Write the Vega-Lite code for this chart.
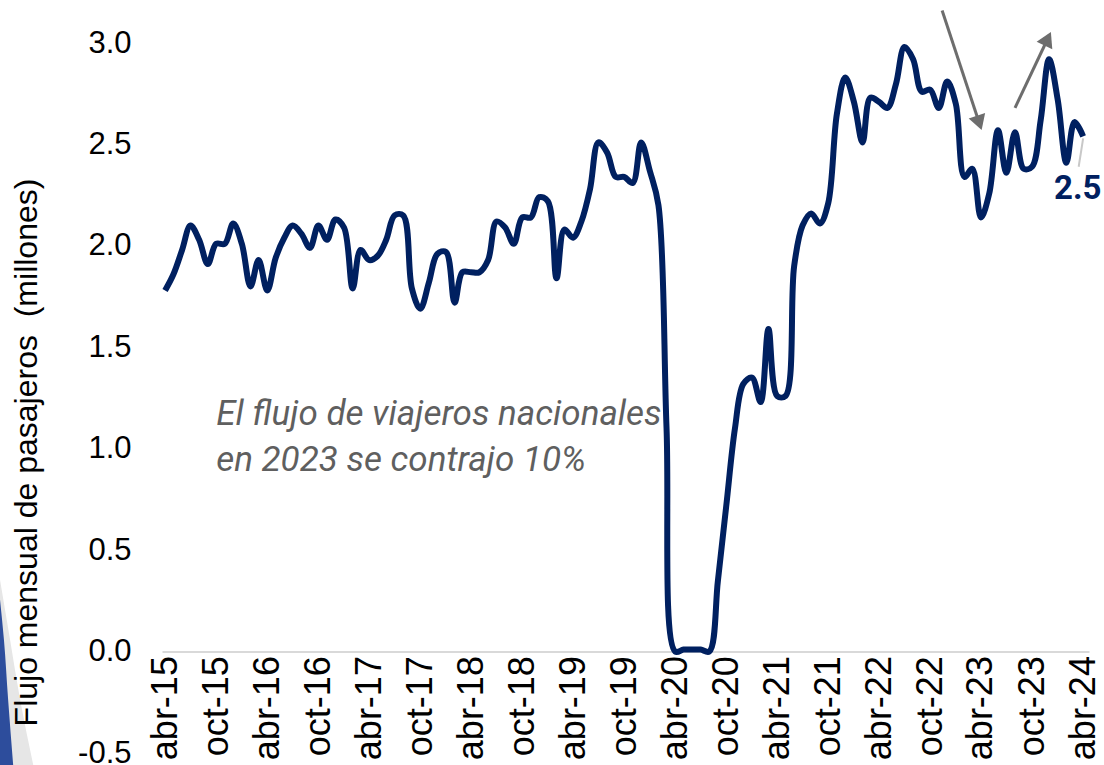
{
  "$schema": "https://vega.github.io/schema/vega-lite/v6.json",
  "width": 927,
  "height": 710,
  "autosize": "none",
  "padding": {"left": 162, "top": 43, "right": 15, "bottom": 12},
  "background": "white",
  "config": {"view": {"stroke": null}, "font": "Liberation Sans"},
  "datasets": {
    "serie": [
      {"fecha":"2015-04-01","valor":1.78},{"fecha":"2015-05-01","valor":1.86},{"fecha":"2015-06-01","valor":1.98},
      {"fecha":"2015-07-01","valor":2.10},{"fecha":"2015-08-01","valor":2.03},{"fecha":"2015-09-01","valor":1.91},
      {"fecha":"2015-10-01","valor":2.01},{"fecha":"2015-11-01","valor":2.01},{"fecha":"2015-12-01","valor":2.11},
      {"fecha":"2016-01-01","valor":2.01},{"fecha":"2016-02-01","valor":1.80},{"fecha":"2016-03-01","valor":1.93},
      {"fecha":"2016-04-01","valor":1.78},{"fecha":"2016-05-01","valor":1.94},{"fecha":"2016-06-01","valor":2.04},
      {"fecha":"2016-07-01","valor":2.10},{"fecha":"2016-08-01","valor":2.06},{"fecha":"2016-09-01","valor":1.99},
      {"fecha":"2016-10-01","valor":2.10},{"fecha":"2016-11-01","valor":2.03},{"fecha":"2016-12-01","valor":2.13},
      {"fecha":"2017-01-01","valor":2.09},{"fecha":"2017-02-01","valor":1.79},{"fecha":"2017-03-01","valor":1.98},
      {"fecha":"2017-04-01","valor":1.93},{"fecha":"2017-05-01","valor":1.95},{"fecha":"2017-06-01","valor":2.03},
      {"fecha":"2017-07-01","valor":2.15},{"fecha":"2017-08-01","valor":2.15},{"fecha":"2017-09-01","valor":1.79},
      {"fecha":"2017-10-01","valor":1.69},{"fecha":"2017-11-01","valor":1.82},{"fecha":"2017-12-01","valor":1.96},
      {"fecha":"2018-01-01","valor":1.97},{"fecha":"2018-02-01","valor":1.72},{"fecha":"2018-03-01","valor":1.87},
      {"fecha":"2018-04-01","valor":1.87},{"fecha":"2018-05-01","valor":1.87},{"fecha":"2018-06-01","valor":1.93},
      {"fecha":"2018-07-01","valor":2.12},{"fecha":"2018-08-01","valor":2.09},{"fecha":"2018-09-01","valor":2.01},
      {"fecha":"2018-10-01","valor":2.14},{"fecha":"2018-11-01","valor":2.14},{"fecha":"2018-12-01","valor":2.24},
      {"fecha":"2019-01-01","valor":2.22},{"fecha":"2019-02-01","valor":1.84},{"fecha":"2019-03-01","valor":2.08},
      {"fecha":"2019-04-01","valor":2.04},{"fecha":"2019-05-01","valor":2.12},{"fecha":"2019-06-01","valor":2.28},
      {"fecha":"2019-07-01","valor":2.51},{"fecha":"2019-08-01","valor":2.46},{"fecha":"2019-09-01","valor":2.34},
      {"fecha":"2019-10-01","valor":2.34},{"fecha":"2019-11-01","valor":2.31},{"fecha":"2019-12-01","valor":2.51},
      {"fecha":"2020-01-01","valor":2.37},{"fecha":"2020-02-01","valor":2.20},{"fecha":"2020-03-01","valor":1.10},
      {"fecha":"2020-04-01","valor":0.00},{"fecha":"2020-05-01","valor":0.01},{"fecha":"2020-06-01","valor":0.01},
      {"fecha":"2020-07-01","valor":0.01},{"fecha":"2020-08-01","valor":0.00},{"fecha":"2020-09-01","valor":0.35},
      {"fecha":"2020-10-01","valor":0.72},{"fecha":"2020-11-01","valor":1.10},{"fecha":"2020-12-01","valor":1.32},
      {"fecha":"2021-01-01","valor":1.35},{"fecha":"2021-02-01","valor":1.23},{"fecha":"2021-03-01","valor":1.59},
      {"fecha":"2021-04-01","valor":1.26},{"fecha":"2021-05-01","valor":1.26},{"fecha":"2021-06-01","valor":1.90},
      {"fecha":"2021-07-01","valor":2.10},{"fecha":"2021-08-01","valor":2.16},{"fecha":"2021-09-01","valor":2.11},
      {"fecha":"2021-10-01","valor":2.21},{"fecha":"2021-11-01","valor":2.65},{"fecha":"2021-12-01","valor":2.83},
      {"fecha":"2022-01-01","valor":2.71},{"fecha":"2022-02-01","valor":2.51},{"fecha":"2022-03-01","valor":2.73},
      {"fecha":"2022-04-01","valor":2.71},{"fecha":"2022-05-01","valor":2.68},{"fecha":"2022-06-01","valor":2.80},
      {"fecha":"2022-07-01","valor":2.98},{"fecha":"2022-08-01","valor":2.92},{"fecha":"2022-09-01","valor":2.76},
      {"fecha":"2022-10-01","valor":2.77},{"fecha":"2022-11-01","valor":2.68},{"fecha":"2022-12-01","valor":2.81},
      {"fecha":"2023-01-01","valor":2.70},{"fecha":"2023-02-01","valor":2.34},{"fecha":"2023-03-01","valor":2.38},
      {"fecha":"2023-04-01","valor":2.14},{"fecha":"2023-05-01","valor":2.26},{"fecha":"2023-06-01","valor":2.57},
      {"fecha":"2023-07-01","valor":2.36},{"fecha":"2023-08-01","valor":2.56},{"fecha":"2023-09-01","valor":2.38},
      {"fecha":"2023-10-01","valor":2.39},{"fecha":"2023-11-01","valor":2.62},{"fecha":"2023-12-01","valor":2.92},
      {"fecha":"2024-01-01","valor":2.72},{"fecha":"2024-02-01","valor":2.41},{"fecha":"2024-03-01","valor":2.61},
      {"fecha":"2024-04-01","valor":2.54}
    ],
    "nota": [
      {"fecha":"2015-10-01","valor":1.118,"texto":["El flujo de viajeros nacionales","en 2023 se contrajo 10%"]}
    ],
    "flechas": [
      {"id":"baja","fecha":"2022-11-13","valor":3.16,"fecha2":"2023-03-26","valor2":2.606},
      {"id":"sube","fecha":"2023-08-01","valor":2.68,"fecha2":"2023-11-26","valor2":3.021}
    ],
    "guia": [
      {"fecha":"2024-04-01","valor":2.53,"fecha2":"2024-03-16","valor2":2.39}
    ],
    "etiqueta": [
      {"fecha":"2024-03-13","valor":2.28,"texto":"2.5"}
    ],
    "franja_gris": [
      {"borde":"2013-08-18","valor":0.353,"inicio":"2013-08-01"},
      {"borde":"2013-09-23","valor":0.057,"inicio":"2013-08-01"},
      {"borde":"2013-10-29","valor":-0.239,"inicio":"2013-08-01"},
      {"borde":"2013-12-15","valor":-0.56,"inicio":"2013-08-01"}
    ],
    "franja_azul": [
      {"borde":"2013-08-18","valor":0.254,"inicio":"2013-08-01"},
      {"borde":"2013-09-01","valor":0.057,"inicio":"2013-08-01"},
      {"borde":"2013-09-16","valor":-0.239,"inicio":"2013-08-01"},
      {"borde":"2013-10-04","valor":-0.56,"inicio":"2013-08-01"}
    ]
  },
  "layer": [
    {
      "data": {"name": "franja_gris"},
      "mark": {"type": "area", "orient": "horizontal", "color": "#e6e6e6", "interpolate": "monotone"},
      "encoding": {
        "y": {"field": "valor", "type": "quantitative"},
        "x": {"field": "borde", "type": "temporal"},
        "x2": {"field": "inicio"}
      }
    },
    {
      "data": {"name": "franja_azul"},
      "mark": {"type": "area", "orient": "horizontal", "color": "#2d4d9c", "interpolate": "monotone"},
      "encoding": {
        "y": {"field": "valor", "type": "quantitative"},
        "x": {"field": "borde", "type": "temporal"},
        "x2": {"field": "inicio"}
      }
    },
    {
      "data": {"name": "serie"},
      "mark": {"type": "line", "interpolate": "catmull-rom", "color": "#002060", "strokeWidth": 6},
      "encoding": {
        "x": {
          "field": "fecha", "type": "temporal",
          "scale": {"type": "utc", "domain": [{"year":2015,"month":3,"date":21,"utc":true},{"year":2024,"month":4,"date":22,"utc":true}]},
          "axis": {
            "title": null,
            "values": [
              {"year":2015,"month":4,"date":1,"utc":true},{"year":2015,"month":10,"date":1,"utc":true},
              {"year":2016,"month":4,"date":1,"utc":true},{"year":2016,"month":10,"date":1,"utc":true},
              {"year":2017,"month":4,"date":1,"utc":true},{"year":2017,"month":10,"date":1,"utc":true},
              {"year":2018,"month":4,"date":1,"utc":true},{"year":2018,"month":10,"date":1,"utc":true},
              {"year":2019,"month":4,"date":1,"utc":true},{"year":2019,"month":10,"date":1,"utc":true},
              {"year":2020,"month":4,"date":1,"utc":true},{"year":2020,"month":10,"date":1,"utc":true},
              {"year":2021,"month":4,"date":1,"utc":true},{"year":2021,"month":10,"date":1,"utc":true},
              {"year":2022,"month":4,"date":1,"utc":true},{"year":2022,"month":10,"date":1,"utc":true},
              {"year":2023,"month":4,"date":1,"utc":true},{"year":2023,"month":10,"date":1,"utc":true},
              {"year":2024,"month":4,"date":1,"utc":true}
            ],
            "labelExpr": "(utcmonth(datum.value) == 3 ? 'abr' : 'oct') + '-' + utcFormat(datum.value, '%y')",
            "labelAngle": 270,
            "labelFont": "Liberation Sans",
            "labelFontSize": 36,
            "labelColor": "#000000",
            "ticks": false,
            "tickSize": 0,
            "labelPadding": 4,
            "domainColor": "#d9d9d9",
            "domainWidth": 2,
            "offset": -101.4,
            "grid": false,
            "labelFlush": false,
            "labelOverlap": false,
            "labelBound": false
          }
        },
        "y": {
          "field": "valor", "type": "quantitative",
          "scale": {"domain": [-0.5, 3.0], "nice": false, "zero": false},
          "axis": {
            "zindex": 1,
            "values": [-0.5, 0, 0.5, 1.0, 1.5, 2.0, 2.5, 3.0],
            "labelExpr": "replace(format(datum.value, '.1f'), '\u2212', '-')",
            "labelFont": "Liberation Sans",
            "labelFontSize": 31,
            "labelColor": "#000000",
            "ticks": false,
            "tickSize": 0,
            "domain": false,
            "grid": false,
            "labelPadding": 31,
            "labelFlush": false,
            "labelOverlap": false,
            "title": "Flujo mensual de pasajeros \u00a0(millones)",
            "titleFont": "Liberation Sans",
            "titleFontSize": 32,
            "titleFontWeight": "normal",
            "titleColor": "#000000",
            "titleAngle": 270,
            "titleX": -126,
            "titleY": 409,
            "titleAlign": "center",
            "titleBaseline": "alphabetic"
          }
        }
      }
    },
    {
      "data": {"name": "nota"},
      "mark": {"type": "text", "align": "left", "baseline": "alphabetic", "font": "Roboto", "fontStyle": "italic", "fontSize": 35, "color": "#5f5f5f", "lineHeight": 46},
      "encoding": {
        "x": {"field": "fecha", "type": "temporal"},
        "y": {"field": "valor", "type": "quantitative"},
        "text": {"field": "texto"}
      }
    },
    {
      "data": {"name": "flechas"},
      "mark": {"type": "rule", "color": "#6d6d6d", "strokeWidth": 3},
      "encoding": {
        "x": {"field": "fecha", "type": "temporal"},
        "y": {"field": "valor", "type": "quantitative"},
        "x2": {"field": "fecha2"},
        "y2": {"field": "valor2"}
      }
    },
    {
      "data": {"name": "flechas"},
      "transform": [{"filter": "datum.id == 'baja'"}],
      "mark": {"type": "point", "shape": "triangle-up", "filled": true, "opacity": 1, "color": "#6d6d6d", "size": 300, "angle": 161.6},
      "encoding": {
        "x": {"field": "fecha2", "type": "temporal"},
        "y": {"field": "valor2", "type": "quantitative"}
      }
    },
    {
      "data": {"name": "flechas"},
      "transform": [{"filter": "datum.id == 'sube'"}],
      "mark": {"type": "point", "shape": "triangle-up", "filled": true, "opacity": 1, "color": "#6d6d6d", "size": 300, "angle": 25.3},
      "encoding": {
        "x": {"field": "fecha2", "type": "temporal"},
        "y": {"field": "valor2", "type": "quantitative"}
      }
    },
    {
      "data": {"name": "guia"},
      "mark": {"type": "rule", "color": "#c8c8c8", "strokeWidth": 2},
      "encoding": {
        "x": {"field": "fecha", "type": "temporal"},
        "y": {"field": "valor", "type": "quantitative"},
        "x2": {"field": "fecha2"},
        "y2": {"field": "valor2"}
      }
    },
    {
      "data": {"name": "etiqueta"},
      "mark": {"type": "text", "align": "center", "baseline": "middle", "font": "Roboto", "fontWeight": "bold", "fontSize": 33, "color": "#002060"},
      "encoding": {
        "x": {"field": "fecha", "type": "temporal"},
        "y": {"field": "valor", "type": "quantitative"},
        "text": {"field": "texto"}
      }
    }
  ]
}
